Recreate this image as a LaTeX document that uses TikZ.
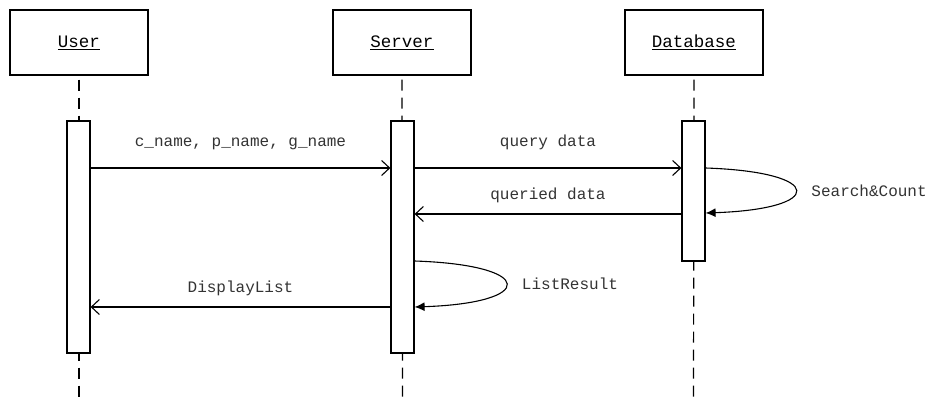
\documentclass[tikz,border=0pt]{standalone}
\usepackage{fontspec}
\setmonofont{Liberation Mono}
\usetikzlibrary{arrows.meta}

\begin{document}
\begin{tikzpicture}[x=1pt, y=-1pt,
    obj/.style={draw, line width=1.4pt, minimum width=138pt, minimum height=65pt, font=\ttfamily\fontsize{17.5}{20}\selectfont},
    bar/.style={draw, line width=1.2pt, fill=white, minimum width=23pt},
    life/.style={line width=1.2pt, dash pattern=on 11pt off 7pt},
    msg/.style={line width=1.1pt, -{Straight Barb[length=8pt, width=15pt, line width=1.1pt]}},
    selfmsg/.style={line width=1.1pt, -{Latex[length=10pt, width=9pt]}},
    lbl/.style={font=\ttfamily\fontsize{16}{18}\selectfont, text=black!80}]
    \useasboundingbox (0,0) rectangle (938,399);
    % objects
    \node[obj] (user) at (79, 42.5) {\underline{User}};
    \node[obj] (server) at (402, 42.5) {\underline{Server}};
    \node[obj] (db) at (694, 42.5) {\underline{Database}};
    % lifelines
    \draw[life] (user.south) ++(0,4) -- (79, 399);
    \draw[life] (server.south) ++(0,4) -- (402.5, 399);
    \draw[life] (db.south) ++(0,4) -- (693.5, 399);
    % activation bars
    \node[bar, minimum height=232pt] (ubar) at (78.5, 237) {};
    \node[bar, minimum height=232pt] (sbar) at (402.5, 237) {};
    \node[bar, minimum height=140pt] (dbar) at (693.5, 191) {};
    % messages
    \draw[msg] (ubar.east |- 0,168) -- (sbar.west |- 0,168)
        node[lbl, midway, above=14pt] {c\_name, p\_name, g\_name};
    \draw[msg] (sbar.east |- 0,168) -- (dbar.west |- 0,168)
        node[lbl, midway, above=14pt] {query data};
    \draw[msg] (dbar.west |- 0,214) -- (sbar.east |- 0,214)
        node[lbl, midway, above=7pt] {queried data};
    \draw[selfmsg] (dbar.east |- 0,168) .. controls +(120,4) and +(120,-4) .. (dbar.east |- 0,213)
        node[lbl, right, pos=0.5, xshift=12pt] {Search\&Count};
    \draw[selfmsg] (sbar.east |- 0,261) .. controls +(122,4) and +(122,-4) .. (sbar.east |- 0,307)
        node[lbl, right, pos=0.5, xshift=12pt] {ListResult};
    \draw[msg] (sbar.west |- 0,307) -- (ubar.east |- 0,307)
        node[lbl, midway, above=7pt] {DisplayList};
\end{tikzpicture}
\end{document}
